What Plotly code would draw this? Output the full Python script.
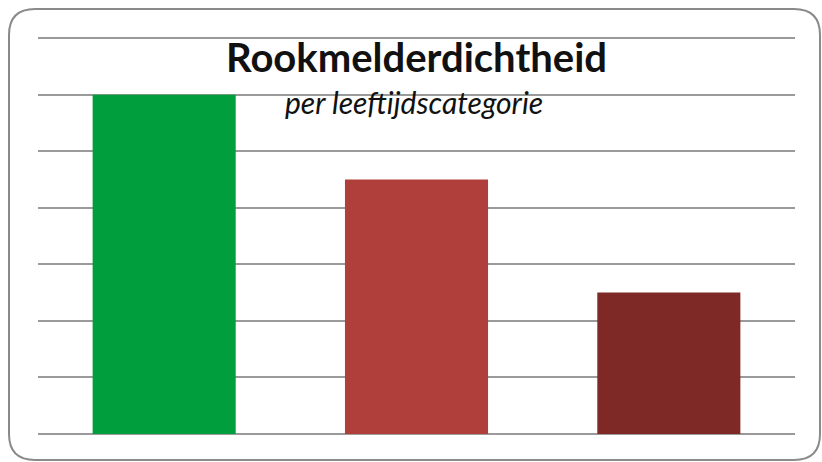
import plotly.graph_objects as go

categories = ["A", "B", "C"]
values = [6, 4.5, 2.5]
colors = ["#009E3D", "#B03E3B", "#7F2927"]

W, H = 822, 462
L, R, T, B = 38, 27, 37, 28
YMAX = 7.02
pw, ph = W - L - R, H - T - B

def px(x):
    return (x - L) / pw

def py(y):
    return (H - B - y) / ph

fig = go.Figure(go.Bar(x=categories, y=values, marker=dict(color=colors, line=dict(width=0)),
                       hoverinfo="skip"))

# rounded border
x0, x1, y0, y1, r = 9, 820, 9, 460, 26
path = (f"M {px(x0 + r)},{py(y0)} L {px(x1 - r)},{py(y0)} "
        f"Q {px(x1)},{py(y0)} {px(x1)},{py(y0 + r)} "
        f"L {px(x1)},{py(y1 - r)} Q {px(x1)},{py(y1)} {px(x1 - r)},{py(y1)} "
        f"L {px(x0 + r)},{py(y1)} Q {px(x0)},{py(y1)} {px(x0)},{py(y1 - r)} "
        f"L {px(x0)},{py(y0 + r)} Q {px(x0)},{py(y0)} {px(x0 + r)},{py(y0)} Z")
fig.add_shape(type="path", xref="paper", yref="paper", path=path,
              line=dict(color="#8a8a8a", width=2), layer="below")

fig.add_annotation(text="<b>Rookmelderdichtheid</b>", xref="paper", yref="paper",
                   x=px(416), y=py(57), xanchor="center", yanchor="middle", showarrow=False,
                   font=dict(family="Lato", size=40, color="#111111"))
fig.add_annotation(text="<i>per leeftijdscategorie</i>", xref="paper", yref="paper",
                   x=px(414), y=py(102), xanchor="center", yanchor="middle", showarrow=False,
                   font=dict(family="Lato", size=30, color="#111111"))

fig.update_layout(
    width=W, height=H,
    margin=dict(l=L, r=R, t=T, b=B),
    paper_bgcolor="white", plot_bgcolor="white",
    bargap=0.433,
    showlegend=False,
    xaxis=dict(showticklabels=False, showgrid=False, zeroline=False, showline=False, ticks=""),
    yaxis=dict(range=[0, YMAX], dtick=1, showticklabels=False, showgrid=True,
               gridcolor="#9a9a9a", gridwidth=1.5, zeroline=True, zerolinecolor="#9a9a9a",
               zerolinewidth=1.5, showline=False, ticks=""),
)

fig.write_html("out.html", config={"displayModeBar": False},
               post_script="document.body.style.margin='0';")
